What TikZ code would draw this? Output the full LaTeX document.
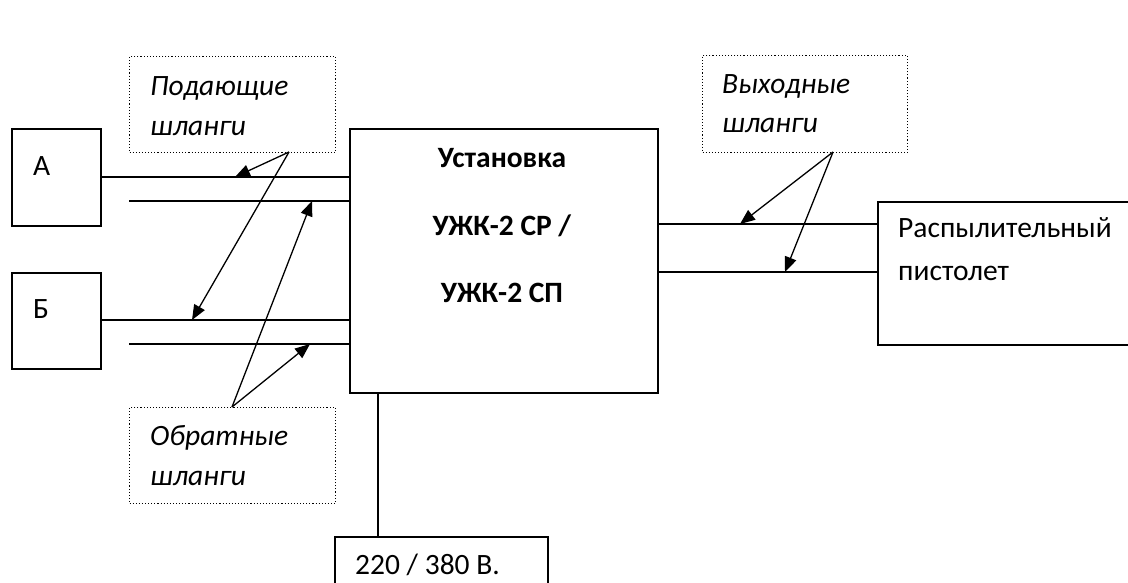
\documentclass[tikz,border=0pt]{standalone}
\usepackage{fontspec}
\setmainfont{Carlito}
\usetikzlibrary{arrows.meta, calc, positioning}

\tikzset{
	blok/.style={draw, line width=1.6pt, inner sep=0pt, anchor=north west},
	vynoska/.style={draw, dotted, line width=1.1pt, inner sep=0pt, anchor=north west},
	shlang/.style={line width=1.6pt},
	strelka/.style={line width=1.3pt, -{Triangle[length=15pt, width=12pt]}},
	tekst/.style={inner sep=0pt, anchor=base west, font=\fontsize{29.5}{40}\selectfont},
}

\begin{document}
\begin{tikzpicture}[x=1pt, y=-1pt]
	
	% -------------------------------------------------------------------------
	% 1. Поле рисунка
	% -------------------------------------------------------------------------
	\useasboundingbox (0,0) rectangle (1128,582);
	\clip (0,0) rectangle (1128,582);
	
	% уровни шлангов
	\def\yA{177}   % подающий А
	\def\yAr{201}  % обратный А
	\def\yB{320}   % подающий Б
	\def\yBr{344}  % обратный Б
	\def\yVa{224}  % выходной 1
	\def\yVb{272}  % выходной 2
	
	% -------------------------------------------------------------------------
	% 2. Блоки
	% -------------------------------------------------------------------------
	\node[blok, minimum width=89pt, minimum height=97pt] (A) at (11,128) {};
	\node[blok, minimum width=89pt, minimum height=96pt] (B) at (11,272) {};
	\node[blok, minimum width=308pt, minimum height=264pt] (ust) at (349,128) {};
	\node[blok, minimum width=300pt, minimum height=143pt] (pist) at (877,201) {};
	\node[blok, minimum width=213pt, minimum height=60pt] (pit) at (334,536) {};
	
	\node[tekst] (tA) at (33,175) {А};
	\node[tekst] (tB) at (33,318) {Б};
	\node[tekst, anchor=base] (tU1) at (502,167) {\textbf{Установка}};
	\node[tekst, anchor=base] (tU2) at (502,235) {\textbf{УЖК-2 СР /}};
	\node[tekst, anchor=base] (tU3) at (502,302) {\textbf{УЖК-2 СП}};
	\node[tekst] (tP1) at (898,237) {Распылительный};
	\node[tekst] (tP2) at (898,280) {пистолет};
	\node[tekst] (tPit) at (355,574) {220 / 380 В.};
	
	% -------------------------------------------------------------------------
	% 3. Выноски (пунктирные рамки)
	% -------------------------------------------------------------------------
	\node[vynoska, minimum width=206pt, minimum height=96pt] (pod) at (129,56) {};
	\node[vynoska, minimum width=206pt, minimum height=96pt] (obr) at (129,407) {};
	\node[vynoska, minimum width=205pt, minimum height=97pt] (vyh) at (702,55) {};
	
	\node[tekst] (tPod1) at (150,95) {\itshape Подающие};
	\node[tekst] (tPod2) at (150,135) {\itshape шланги};
	\node[tekst] (tObr1) at (150,445) {\itshape Обратные};
	\node[tekst] (tObr2) at (150,485) {\itshape шланги};
	\node[tekst] (tVyh1) at (722,93) {\itshape Выходные};
	\node[tekst] (tVyh2) at (722,132) {\itshape шланги};
	
	% -------------------------------------------------------------------------
	% 4. Шланги
	% -------------------------------------------------------------------------
	\coordinate (hA)  at (0,\yA);
	\coordinate (hAr) at (129,\yAr);
	\coordinate (hB)  at (0,\yB);
	\coordinate (hBr) at (129,\yBr);
	\coordinate (hV1) at (0,\yVa);
	\coordinate (hV2) at (0,\yVb);
	\coordinate (kab) at (378,0);
	
	\draw[shlang] (A.east |- hA) -- (ust.west |- hA);
	\draw[shlang] (hAr) -- (ust.west |- hAr);
	\draw[shlang] (B.east |- hB) -- (ust.west |- hB);
	\draw[shlang] (hBr) -- (ust.west |- hBr);
	\draw[shlang] (ust.east |- hV1) -- (pist.west |- hV1);
	\draw[shlang] (ust.east |- hV2) -- (pist.west |- hV2);
	\draw[shlang] (ust.south -| kab) -- (pit.north -| kab);
	
	% -------------------------------------------------------------------------
	% 5. Стрелки выносок
	% -------------------------------------------------------------------------
	\coordinate (podK) at (289,152);
	\coordinate (obrK) at (232,407);
	\coordinate (vyhK) at (833,152);
	
	\draw[strelka] (podK) -- (235,\yA);
	\draw[strelka] (podK) -- (192,\yB);
	\draw[strelka] (obrK) -- (312,\yAr);
	\draw[strelka] (obrK) -- (310,\yBr);
	\draw[strelka] (vyhK) -- (740,\yVa);
	\draw[strelka] (vyhK) -- (785,\yVb);
	
\end{tikzpicture}
\end{document}
